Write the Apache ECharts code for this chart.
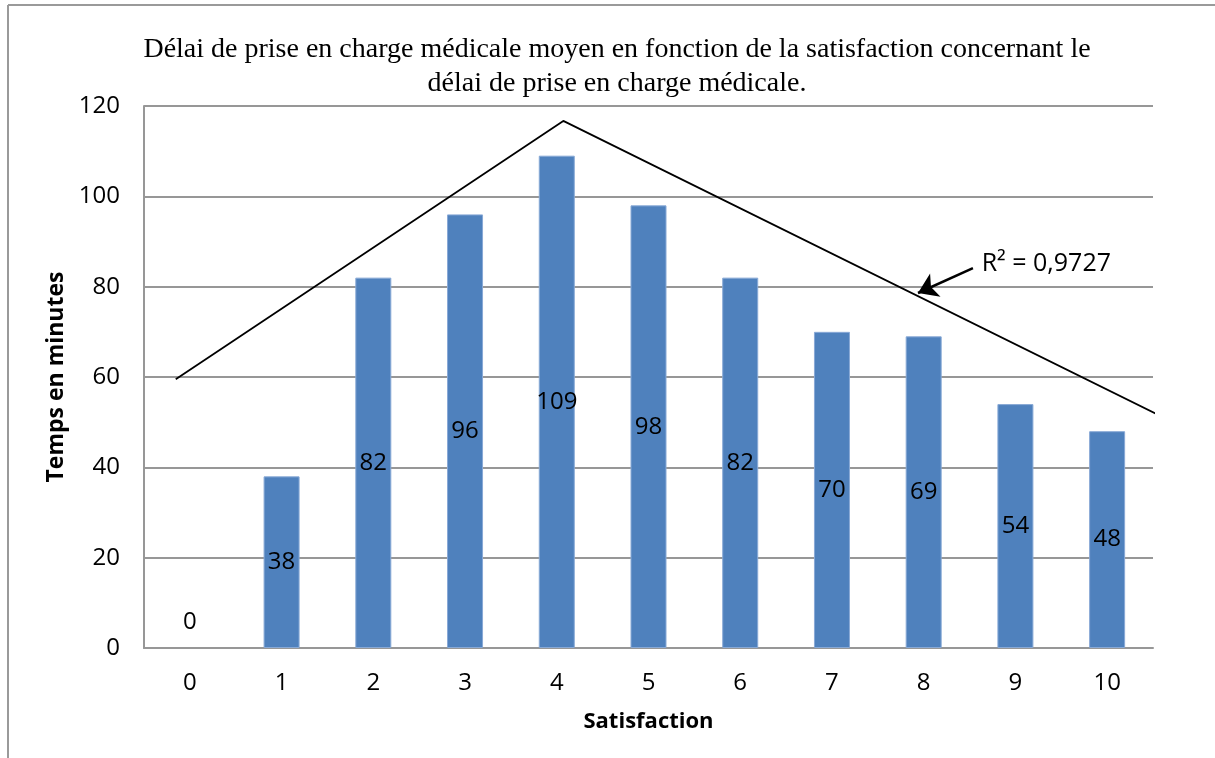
<!DOCTYPE html>
<html>
<head>
<meta charset="utf-8">
<script src="https://cdn.jsdelivr.net/npm/echarts@6/dist/echarts.min.js"></script>
<style>
  html, body { margin: 0; padding: 0; background: #fff; }
  #chart { width: 1215px; height: 758px; }
</style>
</head>
<body>
<div id="chart"></div>
<script>
// Satisfaction scores (0-10) and mean delay in minutes
const categories = ['0', '1', '2', '3', '4', '5', '6', '7', '8', '9', '10'];
const delayMinutes = [0, 38, 82, 96, 109, 98, 82, 70, 69, 54, 48];

// Trend outline: [satisfaction position, minutes]
const trendX = [-0.154, 4.071, 10.6];
const trendY = [59.5, 116.7, 51.2];

// R² annotation: arrow from label towards the trend line
const r2Text = 'R² = 0,9727';
const r2ArrowFrom = [8.537, 84.1];
const r2ArrowTo = [7.938, 78.6];
const r2LabelAt = [8.632, 85.0];

const yTicks = { min: 0, max: 120, interval: 20 };

const gridColor = '#979797';
const uiFont = 'Open Sans';
const numSize = 24;

const chart = echarts.init(document.getElementById('chart'));

chart.setOption({
  backgroundColor: '#ffffff',
  animation: false,
  title: {
    text: 'Délai de prise en charge médicale moyen en fonction de la satisfaction concernant le\ndélai de prise en charge médicale.',
    left: 612,
    textAlign: 'center',
    top: 28,
    textStyle: {
      fontFamily: 'Liberation Serif',
      fontSize: 28,
      fontWeight: 'normal',
      color: '#000',
      lineHeight: 34,
      align: 'center'
    }
  },
  grid: { left: 144, right: 62, top: 106, bottom: 110, containLabel: false },
  xAxis: [
    {
      type: 'category',
      data: categories,
      name: 'Satisfaction',
      nameLocation: 'middle',
      nameGap: 63,
      nameTextStyle: { fontFamily: uiFont, fontSize: 22, fontWeight: 'bold', color: '#000' },
      axisLine: { show: true, lineStyle: { color: gridColor, width: 2 } },
      axisTick: { show: false },
      axisLabel: { fontFamily: uiFont, fontSize: numSize, color: '#000', margin: 23 },
      splitLine: { show: false }
    },
    {
      type: 'value',
      min: -0.5,
      max: 10.5,
      show: false,
      splitLine: { show: false }
    }
  ],
  yAxis: {
    type: 'value',
    min: yTicks.min,
    max: yTicks.max,
    interval: yTicks.interval,
    name: 'Temps en minutes',
    nameLocation: 'middle',
    nameGap: 72,
    nameRotate: 90,
    nameTextStyle: { fontFamily: uiFont, fontSize: 23, fontWeight: 'bold', color: '#000' },
    axisLine: { show: true, onZero: false, lineStyle: { color: gridColor, width: 2 } },
    axisTick: { show: false },
    axisLabel: { fontFamily: uiFont, fontSize: numSize, color: '#000', margin: 24 },
    splitLine: { show: true, lineStyle: { color: gridColor, width: 2 } }
  },
  series: [
    {
      type: 'bar',
      data: delayMinutes.map(v => v === 0
        ? { value: v, itemStyle: { borderWidth: 0 }, label: { offset: [0, -26] } }
        : v),
      barWidth: 36,
      itemStyle: { color: '#4F81BD', borderColor: '#88A9D6', borderWidth: 1 },
      label: {
        show: true,
        position: 'inside',
        fontFamily: uiFont,
        fontSize: numSize,
        color: '#000'
      }
    },
    {
      type: 'line',
      xAxisIndex: 1,
      data: trendX.map((x, i) => [x, trendY[i]]),
      showSymbol: false,
      symbol: 'none',
      clip: false,
      lineStyle: { color: '#000', width: 1.8 },
      z: 5,
      markLine: {
        silent: true,
        symbol: ['none', 'arrow'],
        symbolSize: 19,
        lineStyle: { color: '#000', width: 2.5, type: 'solid' },
        label: { show: false },
        data: [[{ coord: r2ArrowFrom }, { coord: r2ArrowTo }]]
      },
      markPoint: {
        silent: true,
        symbol: 'circle',
        symbolSize: 0,
        itemStyle: { color: 'transparent' },
        label: {
          show: true,
          position: 'right',
          distance: 0,
          fontFamily: uiFont,
          fontSize: 25,
          color: '#000',
          formatter: r2Text
        },
        data: [{ coord: r2LabelAt }]
      }
    }
  ],
  graphic: [
    { type: 'line', shape: { x1: 8, y1: 5, x2: 1215, y2: 5 }, style: { stroke: '#9a9a9a', lineWidth: 2 } },
    { type: 'line', shape: { x1: 8, y1: 5, x2: 8, y2: 758 }, style: { stroke: '#9a9a9a', lineWidth: 2 } }
  ]
});
</script>
</body>
</html>
